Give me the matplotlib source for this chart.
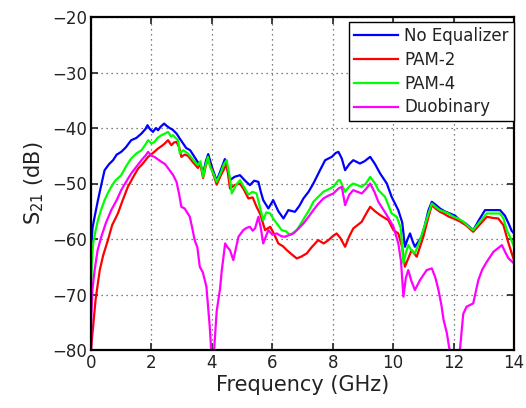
import matplotlib
matplotlib.use("Agg")
import matplotlib.pyplot as plt

# ---- data ----
f_noeq = [0, 0.05, 0.12, 0.23, 0.35, 0.45, 0.6, 0.73, 0.85, 1.0,
          1.15, 1.33, 1.5, 1.67, 1.8, 1.87, 1.95, 2.05, 2.15, 2.22,
          2.3, 2.42, 2.5, 2.6, 2.7, 2.83, 2.95, 3.05, 3.15, 3.28,
          3.4, 3.54, 3.65, 3.71, 3.8, 3.88, 4.0, 4.16, 4.3, 4.43,
          4.5, 4.6, 4.75, 4.93, 5.1, 5.26, 5.4, 5.54, 5.62, 5.7,
          5.87, 6.03, 6.2, 6.37, 6.53, 6.75, 6.9, 7.03, 7.2, 7.36,
          7.58, 7.75, 7.97, 8.1, 8.19, 8.3, 8.41, 8.55, 8.68, 8.9,
          9.05, 9.24, 9.4, 9.57, 9.79, 9.95, 10.17, 10.3, 10.39, 10.48,
          10.56, 10.65, 10.72, 10.94, 11.05, 11.17, 11.28, 11.4, 11.55, 11.7,
          11.88, 12.05, 12.21, 12.4, 12.65, 12.85, 13.04, 13.3, 13.54, 13.7,
          13.82, 13.92, 14.0]
s_noeq = [-62, -58, -56, -53, -50, -47.6, -46.5, -45.8, -44.8, -44.3,
          -43.5, -42.2, -41.8, -41, -40.2, -39.5, -40.2, -40.7, -40, -40.4,
          -39.8, -39.2, -39.6, -40, -40.3, -41, -42, -42.8, -43.6, -44,
          -45, -46.2, -47, -48.3, -46, -44.7, -47, -49.5, -47.5, -45.6,
          -47, -49.4, -48.8, -48.5, -49.5, -50.3, -49.5, -49.7, -51.5, -53,
          -54.5, -53, -55, -56.3, -54.8, -55.1, -54, -52.7, -51.5, -50,
          -47.6, -45.8, -45.2, -44.5, -44.3, -45.5, -47.6, -46.5, -45.8, -46.4,
          -46, -45.2, -46.5, -48.2, -50, -52.4, -54.8, -57, -61.4, -60,
          -59, -60.5, -61.4, -59.6, -57.5, -54.8, -53.3, -53.8, -54.5, -55,
          -55.4, -55.8, -56.6, -57.2, -58.4, -56.5, -54.8, -54.8, -54.8, -55.8,
          -57.2, -58.5, -59]

f_pam2 = [0, 0.03, 0.07, 0.15, 0.29, 0.4, 0.56, 0.7, 0.89, 1.05,
          1.22, 1.4, 1.56, 1.7, 1.89, 2.05, 2.22, 2.35, 2.44, 2.55,
          2.66, 2.75, 2.83, 2.92, 2.99, 3.1, 3.21, 3.35, 3.54, 3.62,
          3.71, 3.8, 3.87, 4.0, 4.16, 4.3, 4.49, 4.6, 4.75, 4.93,
          5.05, 5.21, 5.35, 5.48, 5.6, 5.76, 5.93, 6.05, 6.2, 6.35,
          6.48, 6.65, 6.81, 6.95, 7.14, 7.3, 7.52, 7.7, 7.86, 8.0,
          8.13, 8.25, 8.41, 8.55, 8.68, 8.96, 9.1, 9.24, 9.4, 9.57,
          9.84, 10.01, 10.17, 10.3, 10.39, 10.5, 10.61, 10.78, 11.0, 11.17,
          11.28, 11.4, 11.55, 11.7, 11.85, 12.0, 12.2, 12.4, 12.65, 12.85,
          13.1, 13.3, 13.48, 13.65, 13.82, 13.92, 14.0]
s_pam2 = [-80, -78, -75.8, -71, -65.6, -63, -60.2, -57.5, -55.4, -53,
          -50.6, -48.8, -47.3, -46.5, -45.2, -44.5, -43.7, -43.2, -42.8, -42.2,
          -43.1, -42.6, -42.5, -43.5, -45.2, -44.8, -45, -46, -47.2, -46.5,
          -49, -46.8, -45.5, -47.5, -50.2, -48.5, -46.5, -50.9, -50.3, -50,
          -51, -52.7, -52.5, -54.2, -55.5, -58.4, -57.8, -59, -60.8, -61.3,
          -62, -62.8, -63.5, -63.2, -62.6, -61.5, -60.2, -60.8, -60.2, -59.5,
          -59, -59.8, -61.4, -59.5, -58.1, -56.9, -55.5, -54.2, -55, -55.7,
          -56.6, -58.4, -59, -61.5, -65, -63.5, -62, -63.2, -59.6, -56,
          -53.9, -54.5, -55.1, -55.5, -56, -56.3, -56.8, -57.5, -58.7, -57.5,
          -56, -56.2, -56.3, -57.5, -60.8, -62.5, -63.8]

f_pam4 = [0, 0.03, 0.07, 0.15, 0.23, 0.35, 0.45, 0.55, 0.67, 0.8,
          1.0, 1.15, 1.33, 1.5, 1.67, 1.8, 1.89, 2.0, 2.1, 2.2,
          2.33, 2.45, 2.55, 2.65, 2.72, 2.8, 2.88, 2.94, 3.05, 3.21,
          3.35, 3.45, 3.54, 3.62, 3.71, 3.8, 3.87, 3.94, 4.05, 4.16,
          4.3, 4.4, 4.49, 4.58, 4.66, 4.8, 4.93, 5.05, 5.21, 5.35,
          5.48, 5.6, 5.7, 5.8, 5.93, 6.05, 6.15, 6.31, 6.45, 6.59,
          6.81, 6.95, 7.08, 7.2, 7.36, 7.5, 7.69, 7.91, 8.02, 8.19,
          8.24, 8.41, 8.55, 8.68, 8.96, 9.1, 9.24, 9.4, 9.51, 9.73,
          9.95, 10.12, 10.25, 10.34, 10.42, 10.5, 10.6, 10.72, 10.89, 11.05,
          11.17, 11.28, 11.4, 11.55, 11.7, 11.83, 12.0, 12.15, 12.33, 12.5,
          12.65, 12.85, 13.1, 13.3, 13.54, 13.65, 13.76, 13.9, 14.0]
s_pam4 = [-70, -64, -60.8, -58.5, -56.6, -54.5, -53, -51.8, -50.6, -49.5,
          -48.5, -47, -45.5, -44.6, -44, -43, -42.2, -42.8, -42.5, -41.8,
          -41.3, -41, -40.7, -41.5, -41.3, -41.8, -42.2, -44.6, -44, -44.6,
          -45.5, -46.2, -46.7, -46, -48.8, -46.5, -45.2, -47, -48.2, -49.7,
          -48, -46.5, -45.8, -48.5, -51.8, -50.3, -49.4, -50.5, -52, -51.5,
          -51.8, -54.5, -56.6, -55.2, -55.4, -56.5, -57.2, -58.4, -58.6, -59.3,
          -58.4, -57.2, -56, -55, -53.3, -52.5, -51.5, -50.9, -50.6, -49.4,
          -49.4, -51.5, -50.5, -50, -50.6, -50, -48.8, -50, -51.2, -52.4,
          -55.4, -56, -58, -64.4, -62.5, -61.1, -62, -62.6, -60.2, -57.5,
          -55.4, -53.6, -54.2, -54.8, -55.1, -55.4, -56, -56.3, -56.9, -57.8,
          -58.4, -57, -55.4, -55.4, -55.4, -56.3, -58.4, -60, -61.4]

f_duo = [0, 0.01, 0.05, 0.12, 0.22, 0.34, 0.5, 0.67, 0.85, 1.0,
         1.15, 1.33, 1.5, 1.67, 1.8, 1.89, 2.0, 2.1, 2.2, 2.33,
         2.45, 2.6, 2.72, 2.83, 2.92, 2.99, 3.1, 3.27, 3.35, 3.43,
         3.52, 3.6, 3.7, 3.82, 3.93, 4.0, 4.05, 4.16, 4.27, 4.33,
         4.44, 4.52, 4.6, 4.71, 4.88, 5.04, 5.15, 5.26, 5.35, 5.43,
         5.54, 5.62, 5.7, 5.87, 6.0, 6.15, 6.3, 6.42, 6.55, 6.7,
         6.85, 7.03, 7.2, 7.36, 7.5, 7.69, 7.85, 8.02, 8.19, 8.3,
         8.41, 8.55, 8.68, 8.96, 9.1, 9.24, 9.38, 9.51, 9.65, 9.79,
         10.01, 10.17, 10.26, 10.34, 10.42, 10.5, 10.6, 10.72, 10.89, 11.11,
         11.28, 11.4, 11.5, 11.6, 11.67, 11.78, 11.88, 12.05, 12.21, 12.32,
         12.43, 12.65, 12.82, 12.95, 13.1, 13.32, 13.6, 13.72, 13.82, 14.0]
s_duo = [-82, -74, -69, -65.6, -62, -59.6, -57, -54.8, -53, -51.2,
         -49.8, -48.2, -47, -45.8, -45, -44.3, -45, -45.2, -45.6, -46.1,
         -46.5, -47.6, -48.5, -49.7, -52, -54.2, -54.5, -56, -58, -60.2,
         -61.5, -65, -66, -68.6, -75.8, -82, -82, -73, -69, -65.6,
         -60.8, -61.5, -62, -63.8, -59.6, -58.4, -58, -57.8, -58.5, -58.1,
         -56, -58, -60.8, -58.4, -59.2, -59, -59.5, -59.6, -59.3, -59,
         -58.2, -57.2, -56, -54.8, -53.8, -52.7, -52.2, -51.8, -50.9, -50.6,
         -53.9, -52, -51.2, -51.8, -51, -50, -51.5, -53.3, -54.5, -55.7,
         -57.8, -60.8, -64, -70.4, -67, -65.6, -67.5, -69.2, -67.4, -65.6,
         -65.3, -67, -69.2, -72, -74.6, -77, -80.5, -83, -80, -73.5,
         -72.2, -71.6, -67.4, -65.5, -64.1, -62.3, -61.1, -62.5, -63.5, -64.4]

labels = ["No Equalizer", "PAM-2", "PAM-4", "Duobinary"]
colors = ["#0000ff", "#ff0000", "#00ff00", "#ff00ff"]
x_ticks = [0, 2, 4, 6, 8, 10, 12, 14]
y_ticks = [-80, -70, -60, -50, -40, -30, -20]

# ---- figure ----
plt.rcParams['font.family'] = ['DejaVu Sans']
fig = plt.figure(figsize=(5.26, 4.08), dpi=100)
ax = fig.add_axes([91/526, 1 - 350/408, (514-91)/526, (350-17)/408])

series = [(f_noeq, s_noeq), (f_pam2, s_pam2), (f_pam4, s_pam4), (f_duo, s_duo)]
for (fx, sy), lab, col in zip(series, labels, colors):
    ax.plot(fx, sy, color=col, lw=1.6, label=lab)

ax.set_xlim(0, 14)
ax.set_ylim(-80, -20)
ax.set_xticks(x_ticks)
ax.set_yticks(y_ticks)
ax.grid(True, linestyle=(0, (1, 3)), color='#555555', linewidth=0.9)
ax.tick_params(direction='in', length=5, width=1.2, top=True, right=True,
               labelsize=12, colors='#222222', pad=3)
for sp in ax.spines.values():
    sp.set_linewidth(1.6)
    sp.set_color('black')

ax.set_xlabel("Frequency (GHz)", fontsize=15, color='#222222', labelpad=2)
ax.set_ylabel(r"S$_{\mathregular{21}}$ (dB)", fontsize=15, color='#222222', labelpad=4)

leg = ax.legend(loc='upper right', bbox_to_anchor=(1.0, 0.985), fontsize=12,
                frameon=True, fancybox=False, edgecolor='black', framealpha=1,
                handlelength=2.6, handletextpad=0.4, borderpad=0.3,
                labelspacing=0.35, borderaxespad=0)
leg.get_frame().set_linewidth(1.0)
for t in leg.get_texts():
    t.set_color('#222222')

fig.savefig("out.png", dpi=100)
